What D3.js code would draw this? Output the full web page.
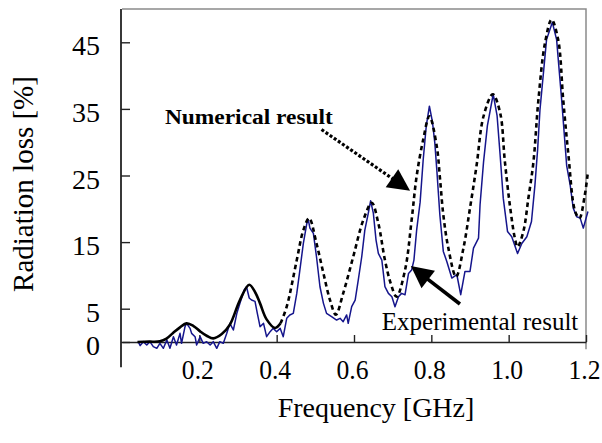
<!DOCTYPE html>
<html>
<head>
<meta charset="utf-8">
<script src="https://cdn.jsdelivr.net/npm/d3@7"></script>
<style>
  body { margin: 0; background: #fff; }
  svg text { font-family: "Liberation Serif", "Times New Roman", serif; fill: #000; }
</style>
</head>
<body>
<div id="chart"></div>
<script>
const width = 602,
      height = 443,
      margin = { top: 9, right: 16, bottom: 101, left: 122 };

// numerical result (black, solid below splitFreq, dashed above)
const numFreq = [0.04, 0.07, 0.098, 0.115, 0.132, 0.15, 0.167, 0.185, 0.202, 0.22, 0.236, 0.258, 0.279, 0.305,
  0.329, 0.345, 0.357, 0.374, 0.396, 0.41, 0.426, 0.452, 0.469, 0.484, 0.503, 0.521, 0.538, 0.553, 0.572, 0.598,
  0.624, 0.646, 0.663, 0.68, 0.695, 0.71, 0.732, 0.749, 0.762, 0.779, 0.795, 0.814, 0.822, 0.831, 0.844, 0.864,
  0.883, 0.9, 0.917, 0.935, 0.959, 0.978, 0.99, 1.003, 1.016, 1.023, 1.038, 1.051, 1.064, 1.077, 1.094, 1.111,
  1.128, 1.141, 1.154, 1.172, 1.183, 1.197, 1.205];
const numLoss = [0, 0.05, 0.1, 0.5, 1.35, 2.2, 2.8, 2.4, 1.6, 0.9, 0.55, 1.2, 2.6, 6.3,
  8.6, 7.4, 5.8, 3.4, 2.1, 2.8, 5.3, 12.3, 16.8, 18.6, 14.8, 10.3, 6.3, 4.1, 7.3, 12.8,
  18.3, 20.9, 17.8, 12.3, 8.8, 6.8, 10.8, 18.3, 24.9, 30.4, 33.9, 29.4, 24.8, 19.1, 14.1, 9.8,
  14.1, 20.1, 26.5, 33.9, 37.2, 34.4, 27.2, 20.6, 15.6, 14.3, 16.6, 21.6, 27, 36.4, 44.9, 48.4,
  45.4, 36.4, 28.4, 19.6, 18.6, 22.1, 25.6];
const splitFreq = 0.41;

// experimental result (blue)
const expFreq = [0.042, 0.047, 0.055, 0.064, 0.072, 0.081, 0.09, 0.098, 0.107, 0.116, 0.124, 0.133, 0.141, 0.15,
  0.154, 0.163, 0.167, 0.176, 0.18, 0.189, 0.193, 0.202, 0.21, 0.219, 0.228, 0.236, 0.245, 0.253, 0.262, 0.271,
  0.279, 0.288, 0.297, 0.305, 0.316, 0.322, 0.329, 0.335, 0.344, 0.35, 0.357, 0.366, 0.374, 0.383, 0.391, 0.4,
  0.409, 0.417, 0.426, 0.434, 0.443, 0.452, 0.46, 0.469, 0.478, 0.482, 0.486, 0.495, 0.503, 0.512, 0.521, 0.529,
  0.542, 0.555, 0.564, 0.572, 0.581, 0.585, 0.594, 0.603, 0.611, 0.62, 0.628, 0.637, 0.643, 0.65, 0.657, 0.663,
  0.672, 0.68, 0.689, 0.698, 0.706, 0.715, 0.723, 0.732, 0.741, 0.749, 0.755, 0.762, 0.771, 0.779, 0.787, 0.795,
  0.803, 0.809, 0.814, 0.822, 0.831, 0.84, 0.853, 0.866, 0.876, 0.887, 0.9, 0.909, 0.922, 0.926, 0.935, 0.945,
  0.96, 0.97, 0.978, 0.986, 0.997, 1.008, 1.023, 1.034, 1.047, 1.059, 1.068, 1.075, 1.081, 1.098, 1.113, 1.124,
  1.137, 1.15, 1.159, 1.167, 1.176, 1.185, 1.193, 1.205];
const expLoss = [0.05, -0.55, 0.05, -0.45, 0.05, -0.7, -0.95, -0.2, -0.95, 0.3, -0.95, 0.8, -0.45, 1.3,
  -0.2, 2.3, 2.8, 2.05, 1.3, 0.8, -0.45, 0.8, -0.2, 0.05, -0.45, 0.05, -0.95, 0.05, -0.2, 1.3,
  2.8, 1.8, 4.3, 5.8, 7.8, 8.3, 6.6, 6.3, 6.1, 4.3, 2.3, 2.8, 0.8, 1.55, 2.05, 1.55,
  2.05, 0.8, 3.55, 4.06, 4.3, 7.3, 10.8, 14.8, 17.8, 18.3, 17.1, 16.3, 12.8, 8.3, 5.8, 4.3,
  3.8, 3.3, 3.55, 3.05, 4.06, 2.8, 5.3, 6.3, 9.3, 12.8, 16.8, 19.35, 21.2, 19.35, 15.3, 13.3,
  12.3, 8.3, 7.3, 6.8, 5.3, 6.8, 7.3, 7.1, 10.3, 10.8, 12.3, 16.8, 21, 27.4, 32.5, 35.4,
  33, 29.9, 26, 19.1, 13.6, 12.1, 9.6, 10.1, 7.1, 10.6, 10.6, 14.1, 15.6, 20.6, 27, 32.5,
  37.2, 34, 28, 21.6, 16.6, 15.8, 13.3, 14.8, 15.8, 18.1, 23.6, 29, 34.9, 45.4, 48, 45.4,
  36.4, 26.5, 23.6, 20.1, 18.8, 18.6, 17.1, 19.6];

const freqTicks = [0.2, 0.4, 0.6, 0.8, 1.0, 1.2];
const lossTicks = [0, 5, 15, 25, 35, 45];

// annotations: [freq, loss] of label anchor, arrow start and arrow tip
const numLabelAt = [0.111, 32.8];
const numArrow = [[0.516, 31.9], [0.745, 22.7]];
const expLabelAt = [0.672, 1.8];
const expArrow = [[0.874, 5.7], [0.747, 11.4]];

const x = d3.scaleLinear()
    .domain([0, 1.2])
    .range([margin.left, width - margin.right]);

const y = d3.scaleLinear()
    .domain([0, 50])
    .range([height - margin.bottom, margin.top]);

const svg = d3.select('#chart').append('svg')
    .attr('width', width)
    .attr('height', height);

const numData = numFreq.map((f, i) => [f, numLoss[i]]);
const expData = expFreq.map((f, i) => [f, expLoss[i]]);

const line = d3.line()
    .x(d => x(d[0]))
    .y(d => y(d[1]));

// frame (top / right)
svg.append('path')
    .attr('d', `M${x(0)},${y(50)}H${x(1.2)}V${y(-1.1)}`)
    .attr('fill', 'none')
    .attr('stroke', '#8a8a8a')
    .attr('stroke-width', 1.5);

// left axis line, runs below the zero line
svg.append('line')
    .attr('x1', x(0) - 1).attr('x2', x(0) - 1)
    .attr('y1', y(50)).attr('y2', y(-3.8))
    .attr('stroke', '#222')
    .attr('stroke-width', 1.8);

// X-axis
const xAxis = svg.append('g')
    .attr('transform', `translate(0,${y(0)})`)
    .call(d3.axisBottom(x)
        .tickValues(freqTicks)
        .tickFormat(d3.format('.1f'))
        .tickSizeInner(-7)
        .tickSizeOuter(0)
        .tickPadding(17));
xAxis.select('.domain').attr('stroke', '#222').attr('stroke-width', 1.6);
xAxis.selectAll('.tick line').attr('stroke', '#222').attr('stroke-width', 1.4);
xAxis.selectAll('text')
    .attr('dx', -2)
    .attr('textLength', 32)
    .attr('lengthAdjust', 'spacingAndGlyphs')
    .style('font-family', '"Liberation Serif", serif')
    .style('font-size', '28px')
    .attr('fill', '#000');

// Y-axis
const yAxis = svg.append('g')
    .attr('transform', `translate(${x(0) - 1},0)`)
    .call(d3.axisLeft(y)
        .tickValues(lossTicks)
        .tickSizeInner(-9)
        .tickSizeOuter(0)
        .tickPadding(21));
yAxis.select('.domain').remove();
yAxis.selectAll('.tick line').attr('stroke', '#222').attr('stroke-width', 1.4);
yAxis.selectAll('text')
    .attr('dy', '0.45em')
    .style('font-family', '"Liberation Serif", serif')
    .style('font-size', '28px')
    .attr('fill', '#000');

// experimental curve
svg.append('path')
    .datum(expData)
    .attr('d', line)
    .attr('fill', 'none')
    .attr('stroke', '#15158c')
    .attr('stroke-width', 1.5)
    .attr('stroke-linejoin', 'round');

// numerical curve
const smooth = d3.line()
    .x(d => x(d[0]))
    .y(d => y(d[1]))
    .curve(d3.curveCatmullRom);

svg.append('path')
    .datum(numData.filter(d => d[0] <= splitFreq))
    .attr('d', smooth)
    .attr('fill', 'none')
    .attr('stroke', '#000')
    .attr('stroke-width', 2.6);

svg.append('path')
    .datum(numData.filter(d => d[0] >= splitFreq))
    .attr('d', smooth)
    .attr('fill', 'none')
    .attr('stroke', '#000')
    .attr('stroke-width', 2.6)
    .attr('stroke-dasharray', '4.5,3.5');

// arrows
function drawArrow(pts, dash, width, headLen, headHalf) {
    const [x0, y0] = [x(pts[0][0]), y(pts[0][1])];
    const [x1, y1] = [x(pts[1][0]), y(pts[1][1])];
    const len = Math.hypot(x1 - x0, y1 - y0);
    const ux = (x1 - x0) / len, uy = (y1 - y0) / len;
    const bx = x1 - ux * headLen, by = y1 - uy * headLen;
    svg.append('line')
        .attr('x1', x0).attr('y1', y0)
        .attr('x2', bx + ux * 2).attr('y2', by + uy * 2)
        .attr('stroke', '#000')
        .attr('stroke-width', width)
        .attr('stroke-dasharray', dash);
    svg.append('path')
        .attr('d', `M${x1},${y1}L${bx - uy * headHalf},${by + ux * headHalf}L${bx + uy * headHalf},${by - ux * headHalf}Z`)
        .attr('fill', '#000');
}
drawArrow(numArrow, '3,2', 3.2, 22, 11);
drawArrow(expArrow, null, 3.6, 22, 11);

// labels
svg.append('text')
    .attr('x', x(numLabelAt[0]))
    .attr('y', y(numLabelAt[1]))
    .attr('textLength', 168)
    .attr('lengthAdjust', 'spacingAndGlyphs')
    .style('font-size', '20px')
    .style('font-weight', 'bold')
    .text('Numerical result');

svg.append('text')
    .attr('x', x(expLabelAt[0]))
    .attr('y', y(expLabelAt[1]))
    .style('font-size', '25px')
    .text('Experimental result');

// axis titles
svg.append('text')
    .attr('x', 376)
    .attr('y', 417)
    .attr('text-anchor', 'middle')
    .style('font-size', '28px')
    .text('Frequency [GHz]');

svg.append('text')
    .attr('transform', 'rotate(-90)')
    .attr('x', -184)
    .attr('y', 33)
    .attr('text-anchor', 'middle')
    .style('font-size', '29px')
    .text('Radiation loss [%]');
</script>
</body>
</html>
